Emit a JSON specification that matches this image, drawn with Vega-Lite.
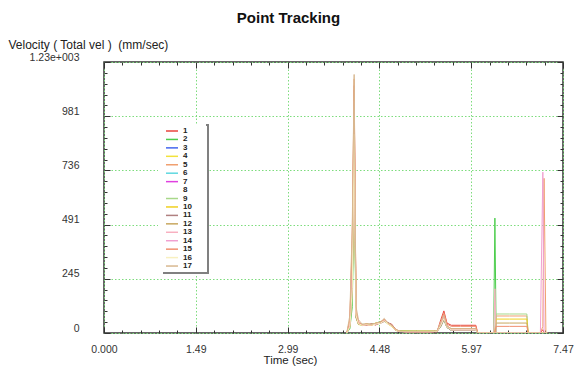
{
  "$schema": "https://vega.github.io/schema/vega-lite/v6.json",
  "width": 459,
  "height": 271,
  "autosize": {"type": "none"},
  "padding": {"left": 104, "top": 62, "right": 13, "bottom": 34},
  "background": "white",
  "title": {"text": "Point Tracking", "font": "Liberation Sans", "fontSize": 15, "fontWeight": "bold", "color": "#111", "anchor": "middle", "frame": "group", "dx": -45, "offset": 12},
  "config": {
    "view": {"stroke": "#333", "strokeWidth": 1.5},
    "axis": {"labelFont": "Liberation Sans", "titleFont": "Liberation Sans", "labelColor": "#333", "titleColor": "#222", "tickColor": "#333", "tickWidth": 1, "labelOverlap": false, "labelFlush": false, "domain": false}
  },
  "data": {
    "values": [
      {"t": 3.95, "s1": 0, "s2": 0, "s4": 0, "s5": 0, "s9": 0, "s10": 0, "s11": 0, "s12": 0, "s13": 0, "s14": 0, "s15": 0, "s16": 0, "s17": 0},
      {"t": 4.00, "s1": 40, "s2": 20, "s4": 30, "s5": 60, "s9": 25, "s10": 35, "s11": 30, "s12": 30, "s13": 50, "s14": 40, "s15": 55, "s16": 30, "s17": 80},
      {"t": 4.04, "s1": 300, "s2": 120, "s4": 200, "s5": 450, "s9": 150, "s10": 220, "s11": 200, "s12": 250, "s13": 400, "s14": 350, "s15": 420, "s16": 200, "s17": 500},
      {"t": 4.07, "s1": 1100, "s2": 700, "s4": 900, "s5": 1150, "s9": 800, "s10": 950, "s11": 850, "s12": 1000, "s13": 1050, "s14": 1000, "s15": 1120, "s16": 900, "s17": 1170},
      {"t": 4.10, "s1": 90, "s2": 72, "s4": 70, "s5": 100, "s9": 75, "s10": 80, "s11": 70, "s12": 85, "s13": 95, "s14": 90, "s15": 98, "s16": 80, "s17": 120},
      {"t": 4.14, "s1": 45, "s2": 40, "s4": 38, "s5": 50, "s9": 42, "s10": 45, "s11": 40, "s12": 44, "s13": 48, "s14": 46, "s15": 47, "s16": 42, "s17": 60},
      {"t": 4.20, "s1": 38, "s2": 35, "s4": 36, "s5": 34, "s9": 40, "s10": 36, "s11": 38, "s12": 37, "s13": 35, "s14": 36, "s15": 36, "s16": 35, "s17": 40},
      {"t": 4.27, "s1": 35, "s2": 40, "s4": 40, "s5": 42, "s9": 38, "s10": 38, "s11": 36, "s12": 41, "s13": 37, "s14": 39, "s15": 40, "s16": 38, "s17": 42},
      {"t": 4.35, "s1": 42, "s2": 38, "s4": 36, "s5": 37, "s9": 40, "s10": 35, "s11": 40, "s12": 38, "s13": 36, "s14": 37, "s15": 36, "s16": 36, "s17": 38},
      {"t": 4.42, "s1": 36, "s2": 44, "s4": 40, "s5": 40, "s9": 42, "s10": 45, "s11": 38, "s12": 43, "s13": 41, "s14": 42, "s15": 43, "s16": 40, "s17": 45},
      {"t": 4.50, "s1": 48, "s2": 52, "s4": 46, "s5": 50, "s9": 50, "s10": 47, "s11": 44, "s12": 49, "s13": 47, "s14": 48, "s15": 49, "s16": 45, "s17": 50},
      {"t": 4.56, "s1": 60, "s2": 55, "s4": 56, "s5": 62, "s9": 58, "s10": 55, "s11": 52, "s12": 57, "s13": 59, "s14": 58, "s15": 61, "s16": 55, "s17": 66},
      {"t": 4.62, "s1": 45, "s2": 42, "s4": 40, "s5": 44, "s9": 44, "s10": 46, "s11": 48, "s12": 43, "s13": 41, "s14": 43, "s15": 43, "s16": 42, "s17": 45},
      {"t": 4.68, "s1": 40, "s2": 34, "s4": 30, "s5": 36, "s9": 33, "s10": 32, "s11": 38, "s12": 35, "s13": 33, "s14": 34, "s15": 35, "s16": 32, "s17": 35},
      {"t": 4.75, "s1": 15, "s2": 12, "s4": 12, "s5": 14, "s9": 13, "s10": 11, "s11": 12, "s12": 13, "s13": 12, "s14": 12, "s15": 13, "s16": 12, "s17": 15},
      {"t": 4.82, "s1": 8, "s2": 10, "s4": 8, "s5": 7, "s9": 9, "s10": 8, "s11": 6, "s12": 8, "s13": 7, "s14": 7, "s15": 7, "s16": 7, "s17": 8},
      {"t": 4.90, "s1": 6, "s2": 10, "s4": 8, "s5": 6, "s9": 9, "s10": 8, "s11": 5, "s12": 7, "s13": 6, "s14": 6, "s15": 6, "s16": 6, "s17": 8},
      {"t": 5.10, "s1": 5, "s2": 8, "s4": 8, "s5": 6, "s9": 9, "s10": 8, "s11": 5, "s12": 7, "s13": 6, "s14": 6, "s15": 6, "s16": 6, "s17": 8},
      {"t": 5.30, "s1": 5, "s2": 8, "s4": 8, "s5": 6, "s9": 9, "s10": 8, "s11": 5, "s12": 7, "s13": 6, "s14": 6, "s15": 6, "s16": 6, "s17": 8},
      {"t": 5.42, "s1": 6, "s2": 8, "s4": 8, "s5": 7, "s9": 9, "s10": 8, "s11": 6, "s12": 8, "s13": 7, "s14": 7, "s15": 7, "s16": 7, "s17": 10},
      {"t": 5.48, "s1": 60, "s2": 30, "s4": 35, "s5": 45, "s9": 35, "s10": 40, "s11": 30, "s12": 40, "s13": 45, "s14": 40, "s15": 50, "s16": 35, "s17": 50},
      {"t": 5.53, "s1": 100, "s2": 60, "s4": 70, "s5": 85, "s9": 65, "s10": 75, "s11": 60, "s12": 70, "s13": 80, "s14": 75, "s15": 90, "s16": 65, "s17": 80},
      {"t": 5.58, "s1": 45, "s2": 25, "s4": 30, "s5": 35, "s9": 28, "s10": 30, "s11": 25, "s12": 30, "s13": 35, "s14": 30, "s15": 40, "s16": 28, "s17": 30},
      {"t": 5.65, "s1": 35, "s2": 12, "s4": 18, "s5": 15, "s9": 14, "s10": 18, "s11": 12, "s12": 20, "s13": 15, "s14": 15, "s15": 30, "s16": 14, "s17": 20},
      {"t": 5.80, "s1": 35, "s2": 12, "s4": 18, "s5": 15, "s9": 14, "s10": 18, "s11": 12, "s12": 20, "s13": 15, "s14": 15, "s15": 30, "s16": 14, "s17": 20},
      {"t": 6.05, "s1": 35, "s2": 12, "s4": 18, "s5": 15, "s9": 14, "s10": 18, "s11": 12, "s12": 20, "s13": 15, "s14": 15, "s15": 30, "s16": 14, "s17": 20},
      {"t": 6.08, "s1": 0, "s2": 0, "s4": 0, "s5": 0, "s9": 0, "s10": 0, "s11": 0, "s12": 0, "s13": 0, "s14": 0, "s15": 0, "s16": 0, "s17": 0},
      {"t": 6.34, "s1": 0, "s2": 0, "s4": 0, "s5": 0, "s9": 0, "s10": 0, "s11": 0, "s12": 0, "s13": 0, "s14": 0, "s15": 0, "s16": 0, "s17": 0},
      {"t": 6.36, "s1": 0, "s2": 520, "s4": 0, "s5": 0, "s9": 0, "s10": 0, "s11": 0, "s12": 0, "s13": 200, "s14": 0, "s15": 0, "s16": 0, "s17": 0},
      {"t": 6.38, "s1": 0, "s2": 0, "s4": 0, "s5": 77, "s9": 86, "s10": 63, "s11": 0, "s12": 45, "s13": 0, "s14": 0, "s15": 30, "s16": 0, "s17": 0},
      {"t": 6.60, "s1": 0, "s2": 0, "s4": 0, "s5": 77, "s9": 86, "s10": 63, "s11": 0, "s12": 45, "s13": 0, "s14": 0, "s15": 30, "s16": 0, "s17": 0},
      {"t": 6.88, "s1": 0, "s2": 0, "s4": 0, "s5": 77, "s9": 86, "s10": 63, "s11": 0, "s12": 45, "s13": 0, "s14": 0, "s15": 30, "s16": 0, "s17": 0},
      {"t": 6.90, "s1": 0, "s2": 0, "s4": 0, "s5": 0, "s9": 0, "s10": 0, "s11": 0, "s12": 0, "s13": 0, "s14": 0, "s15": 0, "s16": 0, "s17": 0},
      {"t": 7.10, "s1": 0, "s2": 0, "s4": 0, "s5": 0, "s9": 0, "s10": 0, "s11": 0, "s12": 0, "s13": 0, "s14": 0, "s15": 0, "s16": 0, "s17": 0},
      {"t": 7.14, "s1": 15, "s2": 0, "s4": 0, "s5": 30, "s9": 0, "s10": 0, "s11": 0, "s12": 0, "s13": 0, "s14": 728, "s15": 0, "s16": 0, "s17": 0},
      {"t": 7.16, "s1": 0, "s2": 0, "s4": 0, "s5": 700, "s9": 0, "s10": 0, "s11": 0, "s12": 0, "s13": 0, "s14": 0, "s15": 0, "s16": 0, "s17": 0},
      {"t": 7.19, "s1": 0, "s2": 0, "s4": 0, "s5": 0, "s9": 0, "s10": 0, "s11": 0, "s12": 0, "s13": 0, "s14": 0, "s15": 0, "s16": 0, "s17": 0},
      {"t": 7.21, "s1": 0, "s2": 0, "s4": 0, "s5": 0, "s9": 0, "s10": 0, "s11": 0, "s12": 0, "s13": 0, "s14": 0, "s15": 0, "s16": 0, "s17": 0}
    ]
  },
  "transform": [
    {"fold": ["s1", "s2", "s3", "s4", "s5", "s6", "s7", "s8", "s9", "s10", "s11", "s12", "s13", "s14", "s15", "s16", "s17"], "as": ["series", "v"]}
  ],
  "resolve": {"axis": {"x": "independent", "y": "independent"}},
  "layer": [
    {
      "mark": {"type": "line", "strokeWidth": 1, "clip": true},
      "encoding": {
        "x": {
          "field": "t", "type": "quantitative",
          "scale": {"domain": [0, 7.468], "nice": false, "zero": false},
          "axis": {
            "orient": "bottom",
            "values": [0, 1.4936, 2.9872, 4.4808, 5.9744, 7.468],
            "tickSize": -6,
            "grid": true,
            "gridColor": "#7ddc7d",
            "gridDash": [1.5, 2],
            "gridWidth": 1,
            "labelExpr": "datum.value == 0 ? '0.000' : format(datum.value, '.2f')",
            "labelFontSize": 10.5,
            "labelPadding": 17,
            "labelBaseline": "top",
            "title": "Time (sec)",
            "titleFontSize": 11.5,
            "titleFontWeight": "normal",
            "titleX": 186,
            "titleY": 27,
            "titleAlign": "center",
            "titleBaseline": "middle"
          }
        },
        "y": {
          "field": "v", "type": "quantitative",
          "scale": {"domain": [0, 1226.5], "nice": false, "zero": false},
          "axis": {
            "orient": "left",
            "values": [0, 245.3, 490.6, 735.9, 981.2, 1226.5],
            "tickSize": -6,
            "grid": true,
            "gridColor": "#7ddc7d",
            "gridDash": [1.5, 2],
            "gridWidth": 1,
            "labelExpr": "datum.value > 1200 ? '1.23e+003' : format(datum.value, '.0f')",
            "labelFontSize": 10.5,
            "labelPadding": 31,
            "labelAlign": "right",
            "labelBaseline": "middle",
            "labelOffset": -5,
            "title": "Velocity ( Total vel ) \u00a0(mm/sec)",
            "titleFontSize": 12,
            "titleFontWeight": "normal",
            "titleAngle": 0,
            "titleX": -96,
            "titleY": -18,
            "titleAlign": "left",
            "titleBaseline": "middle"
          }
        },
        "color": {
          "field": "series", "type": "nominal",
          "scale": {
            "domain": ["s1", "s2", "s3", "s4", "s5", "s6", "s7", "s8", "s9", "s10", "s11", "s12", "s13", "s14", "s15", "s16", "s17"],
            "range": ["#e8453c", "#4ccd4c", "#4466ee", "#f2e23c", "#f0a070", "#5fd8e0", "#e040e0", "#ffffff", "#a8d88a", "#f0d020", "#b08080", "#c8a860", "#f8b0c0", "#f0a0d0", "#f09070", "#f8f0c0", "#d8b890"]
          },
          "legend": {
            "orient": "none",
            "legendX": 54,
            "legendY": 63,
            "title": ".",
            "titleOrient": "right",
            "titleColor": "white",
            "titleFontSize": 8,
            "titlePadding": 11,
            "labelExpr": "replace(datum.label, 's', '')",
            "symbolType": "M-3,0H3",
            "symbolSize": 16,
            "symbolStrokeWidth": 1.5,
            "symbolOffset": 8,
            "labelOffset": 7,
            "labelFont": "Liberation Sans",
            "labelFontSize": 8,
            "labelFontWeight": "bold",
            "labelColor": "#222",
            "padding": 2,
            "rowPadding": 0.44,
            "fillColor": "white",
            "strokeColor": "#808080",
            "encode": {"legend": {"update": {"strokeWidth": {"value": 2}, "strokeDash": {"value": [0, 48, 195, 400]}}}}
          }
        }
      }
    },
    {
      "mark": {"type": "point", "opacity": 0},
      "encoding": {
        "x": {"field": "t", "type": "quantitative", "axis": {"orient": "top", "values": [0, 1.4936, 2.9872, 4.4808, 5.9744, 7.468], "tickSize": -6, "labels": false, "grid": false, "title": null}},
        "y": {"field": "v", "type": "quantitative", "axis": {"orient": "right", "values": [0, 245.3, 490.6, 735.9, 981.2, 1226.5], "tickSize": -6, "labels": false, "grid": false, "title": null}}
      }
    },
    {
      "mark": {"type": "point", "opacity": 0},
      "encoding": {
        "x": {"field": "t", "type": "quantitative", "axis": {"orient": "bottom", "values": [0.29872, 0.59744, 0.89616, 1.19488, 1.79232, 2.09104, 2.38976, 2.68848, 3.28592, 3.58464, 3.88336, 4.18208, 4.77952, 5.07824, 5.37696, 5.67568, 6.27312, 6.57184, 6.87056, 7.16928], "tickSize": -3, "labels": false, "grid": false, "title": null}},
        "y": {"field": "v", "type": "quantitative", "axis": {"orient": "left", "values": [49.06, 98.12, 147.18, 196.24, 294.36, 343.42, 392.48, 441.54, 539.66, 588.72, 637.78, 686.84, 784.96, 834.02, 883.08, 932.14, 1030.26, 1079.32, 1128.38, 1177.44], "tickSize": -3, "labels": false, "grid": false, "title": null}}
      }
    },
    {
      "mark": {"type": "point", "opacity": 0},
      "encoding": {
        "x": {"field": "t", "type": "quantitative", "axis": {"orient": "top", "values": [0.29872, 0.59744, 0.89616, 1.19488, 1.79232, 2.09104, 2.38976, 2.68848, 3.28592, 3.58464, 3.88336, 4.18208, 4.77952, 5.07824, 5.37696, 5.67568, 6.27312, 6.57184, 6.87056, 7.16928], "tickSize": -3, "labels": false, "grid": false, "title": null}},
        "y": {"field": "v", "type": "quantitative", "axis": {"orient": "right", "values": [49.06, 98.12, 147.18, 196.24, 294.36, 343.42, 392.48, 441.54, 539.66, 588.72, 637.78, 686.84, 784.96, 834.02, 883.08, 932.14, 1030.26, 1079.32, 1128.38, 1177.44], "tickSize": -3, "labels": false, "grid": false, "title": null}}
      }
    }
  ]
}
